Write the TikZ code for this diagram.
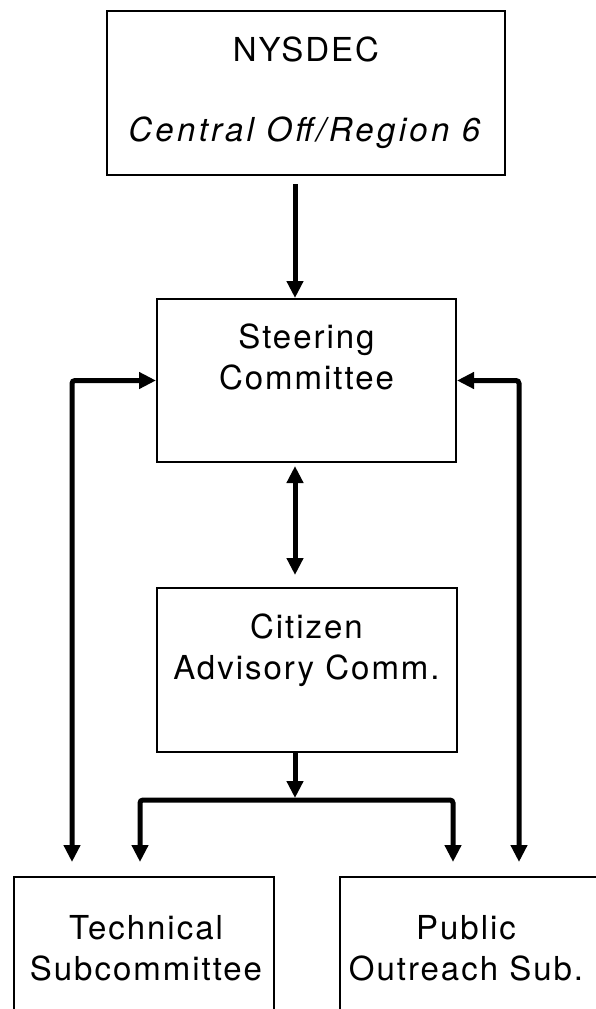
\documentclass[tikz,border=0pt]{standalone}
\usepackage{fontspec}
\setmainfont{TeX Gyre Heros}[LetterSpace=6.0]
\usetikzlibrary{arrows.meta}
\begin{document}
\begin{tikzpicture}[x=1pt,y=-1pt,
  box/.style={draw,line width=2pt,inner sep=0pt},
  txt/.style={align=center,font=\fontsize{33}{41}\selectfont,inner sep=0pt},
  link/.style={line width=5pt,-{Triangle[length=17pt,width=16pt]}},
  twoway/.style={line width=5pt,{Triangle[length=17pt,width=16pt]}-{Triangle[length=17pt,width=16pt]}}]
\useasboundingbox (0,0) rectangle (595,1009);
% boxes
\node[box,txt,minimum width=398pt,minimum height=164pt] (nysdec) at (306,93) {NYSDEC\\[39pt]\addfontfeature{LetterSpace=10.0}\textit{Central Off/Region 6}};
\node[box,minimum width=299pt,minimum height=163pt] (steer) at (306.5,380.5) {};
\node[box,minimum width=300pt,minimum height=164pt] (cac) at (307,670) {};
\node[box,minimum width=260pt,minimum height=183pt] (tech) at (144,968.5) {};
\node[box,minimum width=260pt,minimum height=183pt] (pub) at (470,968.5) {};
\node[txt] (steertext) at (306.5,357) {Steering\\Committee};
\node[txt] (cactext) at (306.5,650) {Citizen\\Advisory Comm.};
\node[txt] (techtext) at (146,948) {Technical\\Subcommittee};
\node[txt] (pubtext) at (466,948) {Public\\Outreach Sub.};
% lines
\coordinate (spine) at (295,0);
\coordinate (lrail) at (72,0);
\coordinate (rrail) at (519,0);
\coordinate (lfork) at (140,0);
\coordinate (rfork) at (453,0);
\coordinate (bar) at (0,800);
\draw[link] ([yshift=-8pt]nysdec.south -| spine) -- (steer.north -| spine);
\draw[twoway] ([yshift=-3pt]steer.south -| spine) -- ([yshift=12pt]cac.north -| spine);
\draw[link] (cac.south -| spine) -- ([yshift=2pt]bar -| spine);
\draw[twoway,rounded corners=3pt] ([yshift=14pt]tech.north -| lfork) |- (bar -| rfork) -- ([yshift=14pt]pub.north -| rfork);
\draw[twoway,rounded corners=3pt] ([yshift=14pt]tech.north -| lrail) |- (steer.west);
\draw[twoway,rounded corners=3pt] ([yshift=14pt]pub.north -| rrail) |- (steer.east);
\end{tikzpicture}
\end{document}
